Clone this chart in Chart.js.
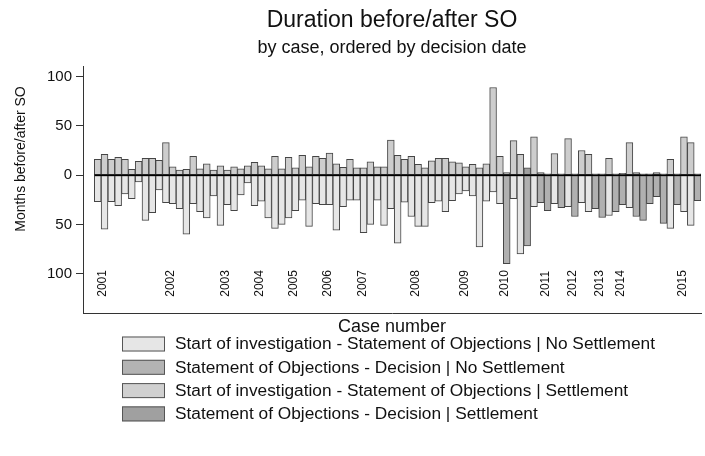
<!DOCTYPE html>
<html>
<head>
<meta charset="utf-8">
<title>Duration before/after SO</title>
<script src="https://cdn.jsdelivr.net/npm/chart.js@4.4.1/dist/chart.umd.min.js"></script>
<style>
  html, body { margin: 0; padding: 0; background: #fff; }
  #wrap { width: 705px; height: 456px; }
</style>
</head>
<body>
<div id="wrap"><canvas id="durationChart" width="705" height="456"></canvas></div>
<script>
// Case numbers, ordered by decision date
const cases = [
  1, 2, 3, 4, 5, 6, 7, 8, 9, 10, 11, 12, 13, 14, 15, 16, 17, 18, 19, 20,
  21, 22, 23, 24, 25, 26, 27, 28, 29, 30, 31, 32, 33, 34, 35, 36, 37, 38, 39, 40,
  41, 42, 43, 44, 45, 46, 47, 48, 49, 50, 51, 52, 53, 54, 55, 56, 57, 58, 59, 60,
  61, 62, 63, 64, 65, 66, 67, 68, 69, 70, 71, 72, 73, 74, 75, 76, 77, 78, 79, 80,
  81, 82, 83, 84, 85, 86, 87, 88, 89
];

// 1 = settlement case
const settled = [
  0, 0, 0, 0, 0, 0, 0, 0, 0, 0, 0, 0, 0, 0, 0, 0, 0, 0, 0, 0,
  0, 0, 0, 0, 0, 0, 0, 0, 0, 0, 0, 0, 0, 0, 0, 0, 0, 0, 0, 0,
  0, 0, 0, 0, 0, 0, 0, 0, 0, 0, 0, 0, 0, 0, 0, 0, 0, 0, 0, 0,
  1, 0, 0, 1, 0, 1, 1, 0, 1, 0, 1, 0, 0, 1, 1, 0, 1, 1, 0, 1,
  1, 1, 1, 1, 0, 1, 0, 0, 1
];

// months, SO -> decision (drawn above zero)
const soToDecision = [
  16, 21, 16, 18, 16, 6, 14, 17, 17, 15, 33, 8.5, 5, 6, 19, 6.5, 11.5, 5, 9.5, 5,
  8.5, 6.5, 9.5, 13, 9.5, 6.5, 19, 6.5, 18, 7.5, 20, 8.5, 19, 17, 22.5, 11.5, 8, 16, 7.5, 7.5,
  13.5, 8.5, 8.5, 35.5, 20, 16, 19, 11, 7.5, 14.5, 17, 17, 13.5, 12.5, 8.5, 11, 7.5, 11.5, 89, 19,
  2.5, 35, 21, 7.5, 39, 2.7, 1.4, 22, 1.4, 37, 1.4, 25, 21, 1.4, 1.4, 17, 1.4, 1.7, 33, 2.7,
  1.4, 1.4, 2.7, 1.4, 16, 1.4, 39, 33, 1.4
];

// months, start of investigation -> SO (drawn below zero)
const startToSO = [
  27, 55, 27, 31, 19, 24, 7, 46, 38, 15, 28, 29, 34, 60, 29, 37, 43.5, 21, 51, 30,
  36, 20, 8, 31, 26.5, 43.5, 54, 50, 43.5, 36, 25.5, 52, 29, 30, 30, 56, 32, 25.5, 25.5, 58.5,
  50, 25.5, 51, 34, 69, 27.5, 42, 52, 52, 28, 26.5, 37, 26, 19, 16, 21, 73, 26.5, 17, 29,
  90, 24, 80, 72, 32, 28, 36, 29, 33, 32, 42, 28, 37, 34, 43, 41, 37, 30, 33, 42,
  46, 29, 22, 49, 54, 30, 37, 51, 26
];

const yTicks = [-100, -50, 0, 50, 100];

// decision year markers, placed by case position
const yearLabels = ["2001", "2002", "2003", "2004", "2005", "2006", "2007", "2008",
  "2009", "2010", "2011", "2012", "2013", "2014", "2015"];
const yearPos = [1.8, 11.7, 19.8, 24.7, 29.7, 34.8, 39.8, 47.7,
  54.8, 60.7, 66.7, 70.7, 74.7, 77.7, 86.8];

const legendLabels = [
  "Start of investigation - Statement of Objections | No Settlement",
  "Statement of Objections - Decision | No Settlement",
  "Start of investigation - Statement of Objections | Settlement",
  "Statement of Objections - Decision | Settlement"
];

(function () {
  "use strict";

  const FONT = "'Liberation Sans', Arial, Helvetica, sans-serif";
  const legendColors = ["#e6e6e6", "#b3b3b3", "#d0d0d0", "#a0a0a0"];

  const pick = (values, flag, sign) =>
    values.map((v, i) => (settled[i] === flag ? sign * v : null));

  const barStyle = (bg) => ({
    backgroundColor: bg,
    borderColor: "#454545",
    borderWidth: 1,
    borderSkipped: false,
    grouped: false,
    barPercentage: 1,
    categoryPercentage: 1,
  });

  const overlay = {
    id: "overlay",
    afterDatasetsDraw(chart) {
      const { ctx, scales: { x, y } } = chart;
      const y0 = y.getPixelForValue(0);

      // zero line across the bars
      ctx.save();
      ctx.strokeStyle = "#000";
      ctx.lineWidth = 1.5;
      ctx.beginPath();
      ctx.moveTo(x.getPixelForValue(cases[0] - 0.5), y0);
      ctx.lineTo(x.getPixelForValue(cases[cases.length - 1] + 0.5), y0);
      ctx.stroke();

      // year labels
      ctx.fillStyle = "#111";
      ctx.font = `12px ${FONT}`;
      ctx.textAlign = "left";
      ctx.textBaseline = "middle";
      const yb = y.getPixelForValue(-123.5);
      yearLabels.forEach((lab, i) => {
        ctx.save();
        ctx.translate(x.getPixelForValue(yearPos[i]), yb);
        ctx.rotate(-Math.PI / 2);
        ctx.fillText(lab, 0, 0);
        ctx.restore();
      });
      ctx.restore();
    },
    afterDraw(chart) {
      const { ctx } = chart;
      ctx.save();

      // y axis title
      ctx.fillStyle = "#111";
      ctx.font = `14px ${FONT}`;
      ctx.textAlign = "center";
      ctx.textBaseline = "middle";
      ctx.translate(21, 159);
      ctx.rotate(-Math.PI / 2);
      ctx.fillText("Months before/after SO", 0, 0);
      ctx.setTransform(1, 0, 0, 1, 0, 0);

      // legend
      ctx.font = `17.3px ${FONT}`;
      ctx.textAlign = "left";
      legendLabels.forEach((lab, i) => {
        const cy = 344 + i * 23.3;
        ctx.fillStyle = legendColors[i];
        ctx.fillRect(122, cy - 7.5, 43, 15);
        ctx.strokeStyle = "#555";
        ctx.lineWidth = 1;
        ctx.strokeRect(122.5, cy - 7, 42, 14);
        ctx.fillStyle = "#111";
        ctx.fillText(lab, 175, cy + 0.5);
      });
      ctx.restore();
    },
  };

  new Chart(document.getElementById("durationChart"), {
    type: "bar",
    data: {
      labels: cases,
      datasets: [
        { label: legendLabels[0], data: pick(startToSO, 0, -1), ...barStyle("#e6e6e6") },
        { label: legendLabels[1], data: pick(soToDecision, 0, 1), ...barStyle("#cdcdcd") },
        { label: legendLabels[2], data: pick(startToSO, 1, -1), ...barStyle("#b0b0b0") },
        { label: legendLabels[3], data: pick(soToDecision, 1, 1), ...barStyle("#a0a0a0") },
      ],
    },
    options: {
      responsive: false,
      animation: false,
      layout: { padding: { left: 0, right: 4, top: 0, bottom: 113 } },
      plugins: {
        legend: { display: false },
        tooltip: { enabled: false },
        title: {
          display: true,
          text: "Duration before/after SO",
          fullSize: false,
          color: "#111",
          font: { family: FONT, size: 23, weight: "normal", lineHeight: 1.2 },
          padding: { top: 7, bottom: 1 },
        },
        subtitle: {
          display: true,
          text: "by case, ordered by decision date",
          fullSize: false,
          color: "#111",
          font: { family: FONT, size: 18, weight: "normal", lineHeight: 1.2 },
          padding: { top: 1.6, bottom: 8 },
        },
      },
      scales: {
        x: {
          type: "linear",
          offset: false,
          min: -1.16,
          max: 89.5,
          ticks: { display: false },
          grid: { display: false, offset: false },
          border: { display: true, color: "#333", width: 1 },
          title: {
            display: true,
            text: "Case number",
            color: "#111",
            font: { family: FONT, size: 18, lineHeight: 1.2 },
            padding: { top: 0, bottom: 5.2 },
          },
          afterFit: (s) => { s.height = 30; },
        },
        y: {
          min: -140,
          max: 110,
          afterBuildTicks: (s) => { s.ticks = yTicks.map((v) => ({ value: v })); },
          ticks: {
            color: "#111",
            padding: 4,
            font: { family: FONT, size: 15 },
            callback: (v) => Math.abs(v),
          },
          grid: { drawOnChartArea: false, drawTicks: true, tickLength: 7, color: "#333" },
          border: { display: true, color: "#333", width: 1 },
          afterFit: (s) => { s.width = 83; },
        },
      },
    },
    plugins: [overlay],
  });
})();
</script>
</body>
</html>
